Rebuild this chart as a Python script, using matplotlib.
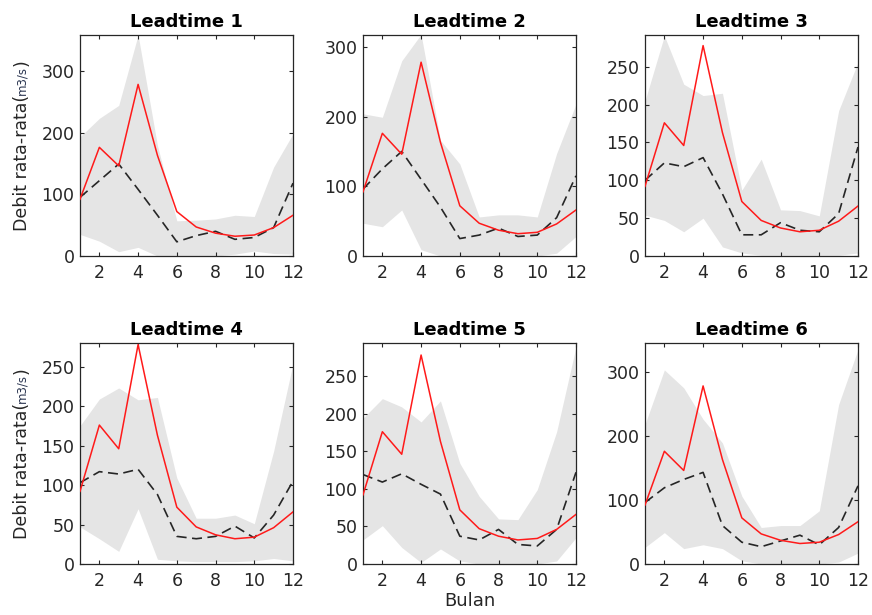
import matplotlib
matplotlib.use("Agg")
import matplotlib.pyplot as plt
import numpy as np

plt.rcParams['font.family'] = ['DejaVu Sans']

months = np.arange(1, 13)
observed = [92, 176, 146, 278, 163, 72, 47, 37, 32, 34, 46, 66]

forecast = [
    [95, 122, 149, 108, 66, 23, 33, 40, 27, 30, 46, 118],
    [96, 125, 150, 110, 70, 25, 30, 40, 28, 30, 55, 115],
    [100, 123, 118, 130, 82, 28, 28, 44, 34, 32, 56, 144],
    [103, 117, 114, 120, 88, 35, 32, 35, 48, 33, 62, 105],
    [119, 109, 120, 106, 93, 37, 32, 46, 26, 24, 46, 122],
    [96, 119, 132, 143, 60, 34, 27, 36, 45, 30, 57, 122],
]
upper = [
    [193, 223, 244, 358, 179, 57, 58, 60, 66, 64, 144, 198],
    [204, 199, 280, 318, 166, 132, 56, 59, 59, 56, 147, 218],
    [205, 291, 227, 212, 215, 87, 128, 61, 60, 53, 192, 256],
    [175, 209, 223, 208, 211, 109, 58, 58, 62, 51, 143, 254],
    [194, 220, 209, 189, 217, 134, 90, 60, 59, 99, 176, 289],
    [218, 303, 275, 226, 189, 106, 57, 60, 60, 83, 249, 335],
]
lower = [
    [35, 24, 7, 14, 0, 0, 0, 0, 3, 8, 4, 3],
    [47, 42, 66, 9, 0, 0, 0, 0, 0, 0, 4, 28],
    [54, 47, 32, 50, 12, 4, 1, 1, 1, 1, 1, 4],
    [47, 32, 16, 70, 6, 4, 3, 3, 3, 4, 7, 4],
    [32, 51, 22, 2, 20, 4, 0, 0, 0, 0, 4, 35],
    [26, 49, 24, 30, 24, 5, 0, 0, 0, 0, 3, 17],
]
ymax = [358, 317, 292, 280, 294, 345]
yticks = [
    [0, 100, 200, 300],
    [0, 100, 200, 300],
    [0, 50, 100, 150, 200, 250],
    [0, 50, 100, 150, 200, 250],
    [0, 50, 100, 150, 200, 250],
    [0, 100, 200, 300],
]
titles = ["Leadtime 1", "Leadtime 2", "Leadtime 3",
          "Leadtime 4", "Leadtime 5", "Leadtime 6"]
xticks = [2, 4, 6, 8, 10, 12]

W, H = 872, 615
fig = plt.figure(figsize=(W / 100, H / 100), dpi=100)

lefts = [80, 363, 645]
tops = [35, 343]
aw, ah = 213, 221
axes = []
for r in range(2):
    for c in range(3):
        ax = fig.add_axes([lefts[c] / W, 1 - (tops[r] + ah) / H, aw / W, ah / H])
        axes.append(ax)

tc = '#262626'
for i, ax in enumerate(axes):
    ax.fill_between(months, lower[i], upper[i], color='#e5e5e5', linewidth=0, zorder=1)
    ax.plot(months, forecast[i], color='#262626', linestyle=(0, (6, 3.3)), linewidth=1.2, zorder=2)
    ax.plot(months, observed, color='#ff1a1a', linewidth=1.1, zorder=3)
    ax.set_xlim(1, 12)
    ax.set_ylim(0, ymax[i])
    ax.set_xticks(xticks)
    ax.set_yticks(yticks[i])
    ax.tick_params(direction='in', length=3, width=0.8, colors=tc, labelsize=12.5,
                   top=True, right=True, pad=4)
    ax.tick_params(axis='x', pad=6)
    for s in ax.spines.values():
        s.set_color(tc)
        s.set_linewidth(0.9)
    ax.set_title(titles[i], fontsize=13, fontweight='bold', color='#000000', pad=6)

axes[4].set_xlabel("Bulan", fontsize=13, color=tc, labelpad=1)

# y labels with small unit text
fig.canvas.draw()
renderer = fig.canvas.get_renderer()
for r in range(2):
    ycenter = tops[r] + ah / 2  # in px from top
    xpos = 22 / W
    parts = [("Debit rata-rata(", 12.5, tc), ("m3/s", 8.5, '#2a3550'), (")", 12.5, tc)]
    temp = []
    for txt, fs, col in parts:
        t = fig.text(0, 0, txt, fontsize=fs, color=col, rotation=90,
                     rotation_mode='anchor', ha='left', va='center')
        temp.append(t)
    fig.canvas.draw()
    lens = [t.get_window_extent(renderer).height for t in temp]
    total = sum(lens)
    start = (H - ycenter) - total / 2  # bottom in px from bottom
    pos = start
    for t, L in zip(temp, lens):
        t.set_position((xpos, pos / H))
        pos += L

fig.savefig("out.png", dpi=100)
